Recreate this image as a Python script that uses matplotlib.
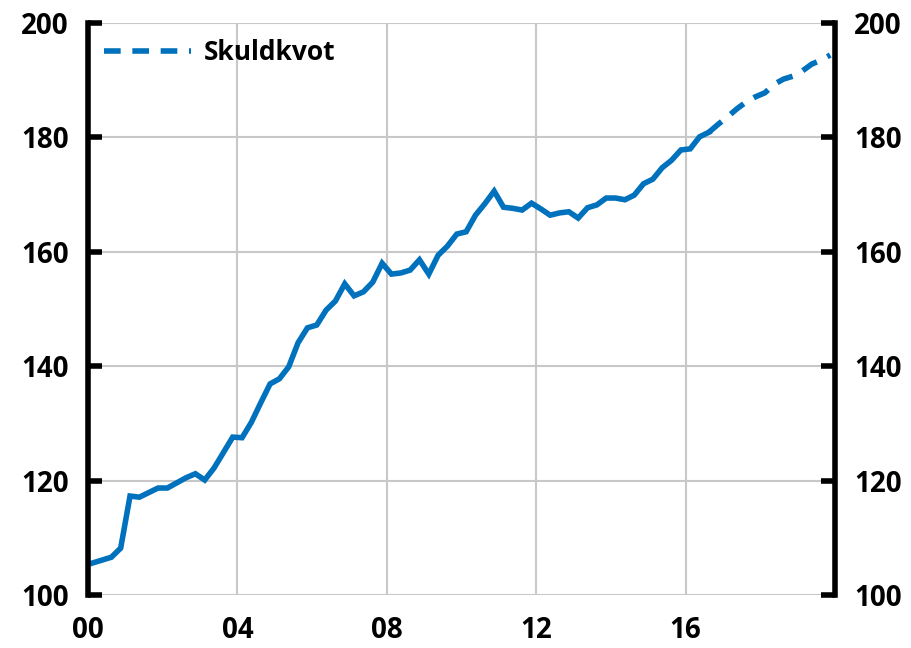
import matplotlib

matplotlib.use("Agg")
import matplotlib.pyplot as plt
import numpy as np

# Skuldkvot, quarterly from 2000Q1; outcome up to 2016Q3, forecast after
outcome = [
    105.6, 106.1, 106.6, 108.2, 117.3, 117.1, 117.9, 118.7,
    118.7, 119.6, 120.5, 121.2, 120.1, 122.2, 124.9, 127.6,
    127.5, 130.2, 133.6, 136.9, 137.8, 139.9, 144.1, 146.7,
    147.2, 149.8, 151.4, 154.4, 152.3, 153.0, 154.7, 158.0,
    156.1, 156.3, 156.8, 158.6, 156.1, 159.4, 161.0, 163.1,
    163.5, 166.4, 168.4, 170.6, 167.8, 167.6, 167.3, 168.5,
    167.5, 166.4, 166.8, 167.0, 165.9, 167.7, 168.2, 169.4,
    169.4, 169.1, 169.9, 171.9, 172.7, 174.7, 176.0, 177.8,
    178.0, 180.1, 180.9,
]
forecast = [
    182.3, 183.6, 185.0, 186.2, 187.1, 187.8, 189.3, 190.2,
    190.7, 191.6, 192.8, 193.5, 194.4,
]
x_ticks = [2000, 2004, 2008, 2012, 2016]
x_tick_labels = ["00", "04", "08", "12", "16"]
y_ticks = [100, 120, 140, 160, 180, 200]
legend_label = "Skuldkvot"

BLUE = "#0071BC"
plt.rcParams["font.family"] = ["Open Sans", "DejaVu Sans"]
plt.rcParams["font.weight"] = "bold"

n_out = len(outcome)
x_all = 2000 + 0.25 * np.arange(n_out + len(forecast)) + 0.125
x_out = x_all[:n_out]
x_fc = x_all[n_out - 1:]
y_fc = [outcome[-1]] + forecast

fig = plt.figure(figsize=(9.12, 6.48), dpi=100)
ax = fig.add_axes([0.0965, 0.0818, 0.819, 0.8827])

ax.plot(x_out, outcome, color=BLUE, lw=4, solid_joinstyle="miter")
ax.plot(x_fc, y_fc, color=BLUE, lw=4, dashes=(3.0, 2.1), label=legend_label)

ax.set_xlim(2000, 2020)
ax.set_ylim(100, 200)
ax.set_xticks(x_ticks)
ax.set_xticklabels(x_tick_labels)
ax.set_yticks(y_ticks)

ax.grid(True, color="#c8c8c8", lw=1.5)
ax.set_axisbelow(True)
for side in ("top", "bottom"):
    ax.spines[side].set_visible(False)
for side in ("left", "right"):
    ax.spines[side].set_linewidth(4)
    ax.spines[side].set_color("black")

ax.tick_params(axis="x", length=0, pad=15, labelsize=20)
ax.tick_params(axis="y", which="both", direction="in", length=10, width=4,
               pad=14, labelsize=20, left=True, right=True,
               labelleft=True, labelright=True)

leg = ax.legend(loc="upper left", frameon=False, fontsize=19,
                handlelength=3.3, handletextpad=0.5,
                borderaxespad=0.2, bbox_to_anchor=(0.0, 1.0))
for text in leg.get_texts():
    text.set_fontweight("bold")

fig.savefig("out.png", dpi=100)
